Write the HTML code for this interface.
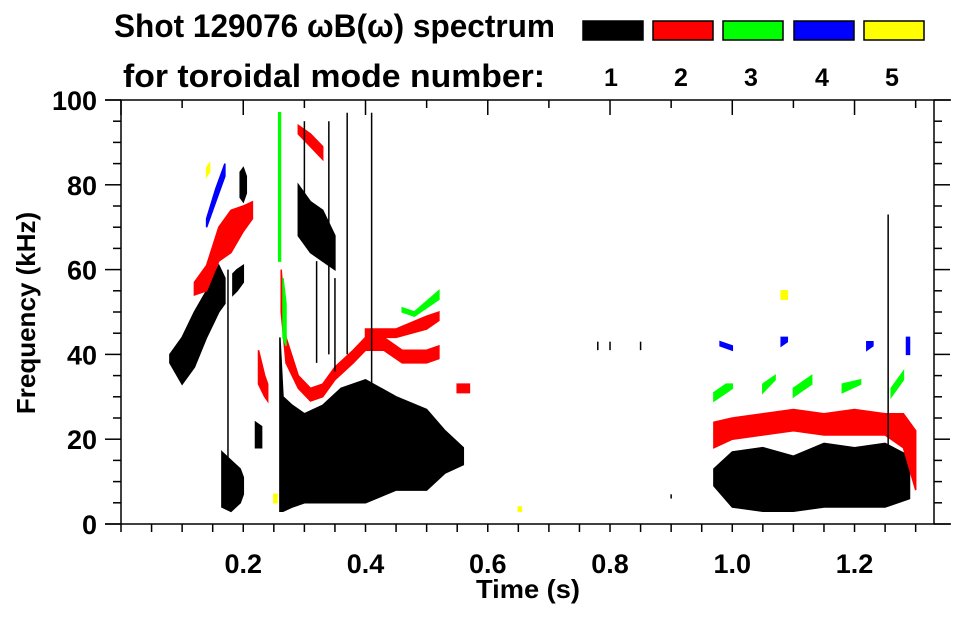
<!DOCTYPE html>
<html><head><meta charset="utf-8"><style>
body{margin:0;background:#fff;width:963px;height:615px;overflow:hidden}
svg{font-family:"Liberation Sans",sans-serif;font-weight:bold}
</style></head><body>
<svg id="chart" width="963" height="615" viewBox="0 0 963 615"></svg>
<script>
// data: blobs as [time, fLow, fHigh] outlines, per toroidal mode
const modeColors = ["#000000","#ff0000","#00ff00","#0000ff","#ffff00"];
const modeLabels = ["1","2","3","4","5"];
const xTickLabels = ["0.2","0.4","0.6","0.8","1.0","1.2"];
const xTickValues = [0.2,0.4,0.6,0.8,1.0,1.2];
const yTickValues = [0,20,40,60,80,100];
const mode1Blobs = [
 [[0.08,38,40],[0.10,33,44],[0.12,37,50],[0.14,44,55],[0.16,50,61],[0.17,52,58]],
 [[0.183,54,59],[0.19,55,60],[0.2,57,61]],
 [[0.195,77,83],[0.2,76,84],[0.205,78,82]],
 [[0.165,4,17],[0.18,3,15],[0.195,5,13],[0.2,7,11]],
 [[0.22,18,24],[0.23,18,23]],
 [[0.26,3,44],[0.265,3,30],[0.28,4,28],[0.30,5,26],[0.33,5,28],[0.36,5,32],[0.40,5,34],[0.45,8,30],[0.50,8,27],[0.53,12,22],[0.56,14,18]],
 [[0.29,68,80],[0.31,64,76],[0.33,62,74],[0.35,60,68]],
 [[0.97,9,13],[1.0,4,17],[1.05,3,18],[1.1,3,16],[1.15,4,19],[1.2,4,18],[1.25,4,19],[1.29,6,16]]
];
const mode2Blobs = [
 [[0.12,54,57],[0.14,55,61],[0.16,62,70],[0.18,64,74],[0.20,69,75],[0.215,72,76]],
 [[0.225,33,41],[0.235,30,35],[0.24,29,33]],
 [[0.262,50,60],[0.27,38,44],[0.29,32,35],[0.31,29,32],[0.33,30,33],[0.35,34,37],[0.38,38,41],[0.40,41,44],[0.43,41,44],[0.46,38,41],[0.50,38,41],[0.52,39,42]],
 [[0.40,44,46],[0.45,44,46],[0.50,46,49],[0.52,48,50]],
 [[0.29,92,94],[0.31,89,92],[0.33,86,89]],
 [[0.55,31,33],[0.57,31,33]],
 [[0.97,18,24],[1.0,20,25],[1.05,21,26],[1.1,22,27],[1.15,21,26],[1.2,21,27],[1.25,21,26],[1.28,18,26],[1.30,8,22]]
];
const mode3Blobs = [
 [[0.258,62,97],[0.261,62,97]],
 [[0.265,44,58],[0.27,42,52]],
 [[0.46,50,51],[0.48,49,50],[0.52,53,55]],
 [[0.97,29,31],[0.99,31,33],[1.0,32,33]],
 [[1.05,31,33],[1.07,34,35]],
 [[1.10,30,32],[1.13,33,35]],
 [[1.18,31,33],[1.21,33,34]],
 [[1.26,30,32],[1.28,34,36]]
];
const mode4Blobs = [
 [[0.14,70,72],[0.155,76,79],[0.17,82,85]],
 [[0.98,42,43],[1.0,41,42]],
 [[1.08,42,44],[1.09,43,44]],
 [[1.22,41,43],[1.23,42,43]],
 [[1.285,40,44],[1.29,40,44]]
];
const mode5Blobs = [
 [[0.14,82,84],[0.145,83,85]],
 [[1.08,53,55],[1.09,53,55]],
 [[0.25,5,7],[0.255,5,7]],
 [[0.65,3,4],[0.655,3,4]]
];
const allModes = [mode1Blobs,mode2Blobs,mode3Blobs,mode4Blobs,mode5Blobs];
// streaks: [time, fLow, fHigh]
const streakTimes = [0.37,0.41,0.34,0.30,0.175,1.255,0.78,0.80,0.85,0.9,0.32,0.35];
const streakLow =   [40,  30,  40,  70,  4,   5,   41,  41,  41,  6,   38,  36];
const streakHigh =  [97,  97,  95,  95,  60,  73,  43,  43,  43,  7,   62,  58];

const NS="http://www.w3.org/2000/svg";
const svg=document.getElementById('chart');
const L=121,R=934,T=100,B=524, TMAX=1.33;
const xs=t=>L+t/TMAX*(R-L);
const ys=f=>B-f/100*(B-T);
function mk(tag,attrs,parent){const e=document.createElementNS(NS,tag);for(const k in attrs)e.setAttribute(k,attrs[k]);(parent||svg).appendChild(e);return e;}

const marks=mk('g',{});


allModes.forEach((blobs,mi)=>{
 blobs.forEach((b,bi)=>{
  const up=b.map(p=>xs(p[0]).toFixed(1)+','+ys(p[2]).toFixed(1));
  const dn=b.slice().reverse().map(p=>xs(p[0]).toFixed(1)+','+ys(p[1]).toFixed(1));
  const pg=mk('polygon',{points:up.concat(dn).join(' '),fill:modeColors[mi],stroke:modeColors[mi],'stroke-width':1.5},marks);
  
  
 });
});
streakTimes.forEach((t,i)=>{
 const ln=mk('line',{x1:xs(t),x2:xs(t),y1:ys(streakLow[i]),y2:ys(streakHigh[i]),stroke:'#000','stroke-width':1.5},marks);
 
 
});

// axes
const ax=mk('g',{stroke:'#000','stroke-width':1.5,fill:'none'});


mk('rect',{x:L,y:T,width:R-L,height:B-T},ax);
mk('line',{x1:105,x2:L,y1:B,y2:B},ax);
mk('line',{x1:105,x2:L,y1:T,y2:T},ax);
mk('line',{x1:R,x2:951,y1:B,y2:B},ax);
mk('line',{x1:R,x2:951,y1:T,y2:T},ax);
for(let f=0;f<=100;f+=5){
 const major=f%20===0, len=major?16:8;
 mk('line',{x1:L-len,x2:L,y1:ys(f),y2:ys(f)},ax);
 mk('line',{x1:R,x2:R+len,y1:ys(f),y2:ys(f)},ax);
}
for(let k=0;k*0.05<=TMAX+1e-9;k++){
 const t=k*0.05;
 mk('line',{x1:xs(t),x2:xs(t),y1:B,y2:B+8},ax);
 if(k%2===0) mk('line',{x1:xs(t),x2:xs(t),y1:T,y2:T+(k%4===0?15:8)},ax);
}
yTickValues.forEach(v=>{
 const tx=mk('text',{x:97,y:ys(v)+10,'font-size':27,'text-anchor':'end',fill:'#000'});
 tx.textContent=v;
 
 
});
xTickValues.forEach((v,i)=>{
 const tx=mk('text',{x:xs(v),y:573,'font-size':27,'text-anchor':'middle',fill:'#000'});
 tx.textContent=xTickLabels[i];
 
 
});
const xt=mk('text',{x:476,y:598,'font-size':26,textLength:104,lengthAdjust:'spacingAndGlyphs'});
xt.textContent='Time (s)';


const yt=mk('text',{x:0,y:0,'font-size':26,'text-anchor':'middle',transform:'translate(35,313) rotate(-90)'});
yt.textContent='Frequency (kHz)';


const t1=mk('text',{x:114,y:37,'font-size':32,textLength:441,lengthAdjust:'spacingAndGlyphs'});
t1.textContent='Shot 129076 \u03c9B(\u03c9) spectrum';


const t2=mk('text',{x:123,y:87,'font-size':32,textLength:422,lengthAdjust:'spacingAndGlyphs'});
t2.textContent='for toroidal mode number:';


const boxX=[583,653,723,794,864];
modeColors.forEach((c,i)=>{
 const r=mk('rect',{x:boxX[i],y:21,width:60,height:19,fill:c,stroke:'#000','stroke-width':1.5});
 
 
 const tx=mk('text',{x:boxX[i]+28,y:86,'font-size':25,'text-anchor':'middle'});
 tx.textContent=modeLabels[i];
 
 
});
</script>
</body></html>
